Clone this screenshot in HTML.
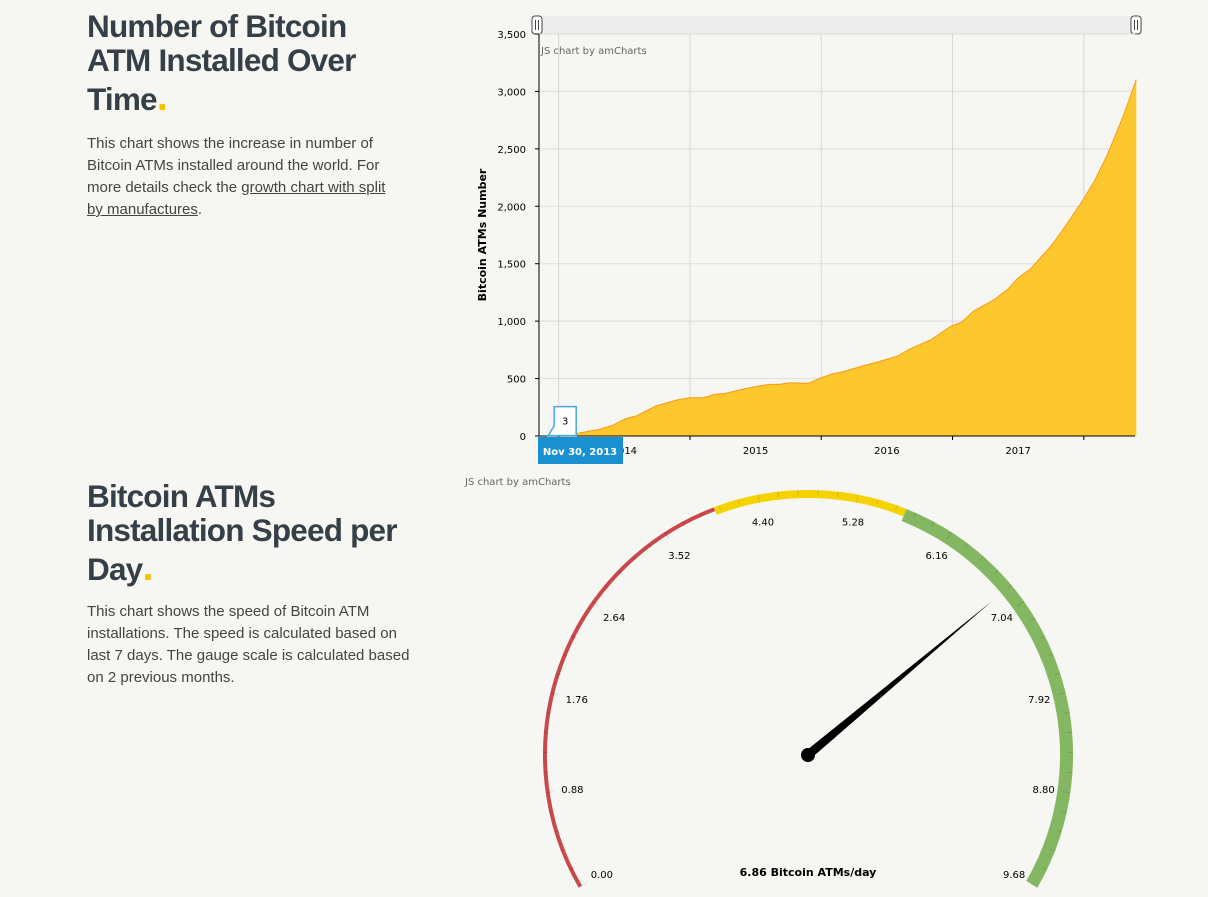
<!DOCTYPE html>
<html><head><meta charset="utf-8"><style>
body{margin:0;width:1208px;height:897px;background:#f6f6f2;font-family:"Liberation Sans",sans-serif;overflow:hidden;position:relative}
h1{position:absolute;left:87px;margin:0;font-size:31.5px;letter-spacing:-0.8px;line-height:34px;color:#353f47;font-weight:bold;width:320px}
h1 .l3{display:block;margin-top:5px}
h1 .dot{color:#f8c200;font-size:40px;line-height:10px}
p{position:absolute;left:87px;margin:0;font-size:15px;line-height:22px;color:#444;width:330px}
p a{color:#444;text-decoration:underline}
svg{position:absolute;left:0;top:0}
</style></head><body>
<h1 style="top:9px">Number of Bitcoin ATM Installed Over<span class="l3">Time<span class="dot">.</span></span></h1>
<p style="top:133px;width:308px">This chart shows the increase in number of Bitcoin ATMs installed around the world. For more details check the <a href="#">growth chart with split by manufactures</a>.</p>
<h1 style="top:479px">Bitcoin ATMs Installation Speed per<span class="l3">Day<span class="dot">.</span></span></h1>
<p style="top:601px;width:328px">This chart shows the speed of Bitcoin ATM installations. The speed is calculated based on last 7 days. The gauge scale is calculated based on 2 previous months.</p>
<svg id="chart" width="1208" height="897"></svg>
<script>
const dates=[2013.92,2014.14,2014.31,2014.41,2014.51,2014.59,2014.74,2014.90,2015.0,2015.10,2015.19,2015.27,2015.43,2015.60,2015.68,2015.76,2015.90,2016.0,2016.10,2016.16,2016.33,2016.43,2016.58,2016.68,2016.84,2016.99,2017.07,2017.16,2017.32,2017.42,2017.50,2017.59,2017.75,2017.85,2017.98,2018.08,2018.18,2018.30,2018.40];
const atmCounts=[3,23,58,93,150,174,261,313,333,333,362,371,415,449,449,464,458,507,545,557,615,644,696,760,841,957,992,1087,1189,1276,1377,1450,1653,1812,2030,2218,2450,2784,3103];
const yTicks=[0,500,1000,1500,2000,2500,3000,3500];
const yearLabels=["2014","2015","2016","2017"];
const gaugeMin=0,gaugeMax=9.68;
const gaugeTicks=[0,0.88,1.76,2.64,3.52,4.40,5.28,6.16,7.04,7.92,8.80,9.68];
const bands=[[0,4.0,"#c9484a",4],[4.0,5.72,"#f6d200",8],[5.72,9.68,"#84b761",13]];
const speed=6.86;

const S=document.getElementById('chart'),NS="http://www.w3.org/2000/svg";
function mk(t,a,p){const e=document.createElementNS(NS,t);for(const k in a)e.setAttribute(k,a[k]);(p||S).appendChild(e);return e;}
const x0=539,x1=1135,yb=436,yt=34,tStart=2013.85,tEnd=2018.39;
const X=t=>x0+(t-tStart)/(tEnd-tStart)*(x1-x0);
const Y=v=>yb-v/3500*(yb-yt);
let sb=mk('rect',{x:533,y:16,width:609,height:18,fill:'#ededed'});

[[537,'scrollbar-left-grip'],[1136,'scrollbar-right-grip']].forEach(([gx,n])=>{const g=mk('rect',{x:gx-5,y:16,width:10,height:18,rx:3,fill:'#fff',stroke:'#444'});mk('line',{x1:gx-1.5,y1:20,x2:gx-1.5,y2:30,stroke:'#444'});mk('line',{x1:gx+1.5,y1:20,x2:gx+1.5,y2:30,stroke:'#444'});});
yTicks.forEach(v=>{const y=Y(v);const l=mk('line',{x1:x0,y1:y,x2:x1,y2:y,stroke:'#ddd'});
const t=mk('text',{x:526,y:y+4,'text-anchor':'end','font-size':10,fill:'#000','font-family':'DejaVu Sans, sans-serif'});t.textContent=v.toLocaleString('en-US');
mk('line',{x1:x0-4,y1:y,x2:x0,y2:y,stroke:'#000'});});
for(let yr=2014;yr<=2018;yr++){const x=X(yr);const l=mk('line',{x1:x,y1:yt,x2:x,y2:yb,stroke:'#d8d8d8'});mk('line',{x1:x,y1:yb,x2:x,y2:yb+4,stroke:'#000'});}
yearLabels.forEach(s=>{const yr=+s;const t=mk('text',{x:X(yr+0.5),y:454,'text-anchor':'middle','font-size':10,fill:'#000','font-family':'DejaVu Sans, sans-serif'});t.textContent=s;});
let d=`M${X(dates[0])},${yb}`;dates.forEach((t,i)=>d+=` L${X(t)},${Y(atmCounts[i])}`);
const area=mk('path',{d:d+` L${X(dates[dates.length-1])},${yb} Z`,fill:'#fdc82e',stroke:'none'});

let ld='';dates.forEach((t,i)=>ld+=(i?' L':'M')+X(t)+','+Y(atmCounts[i]));
mk('path',{d:ld,fill:'none',stroke:'#f79a1a','stroke-width':1});
mk('line',{x1:x0,y1:yt,x2:x0,y2:yb,stroke:'#000'});
mk('line',{x1:x0,y1:yb,x2:x1,y2:yb,stroke:'#000'});
let wm=mk('text',{x:541,y:54,'font-size':10,fill:'#666','font-family':'DejaVu Sans, sans-serif'});wm.textContent='JS chart by amCharts';
let yt2=mk('text',{x:0,y:0,'font-size':11,'font-weight':'bold',fill:'#000','text-anchor':'middle',transform:'translate(486,235) rotate(-90)','font-family':'DejaVu Sans, sans-serif'});yt2.textContent='Bitcoin ATMs Number';
const bx=X(dates[0]),by=Y(atmCounts[0]);
let bal=mk('path',{d:`M${bx},${by} L${bx+6},${by-10} L${bx+6},${by-29} L${bx+28},${by-29} L${bx+28},${by} Z`,fill:'#fff',stroke:'#49a7d5','stroke-width':1.5});
let bt=mk('text',{x:bx+17,y:by-11,'font-size':10,'text-anchor':'middle','font-family':'DejaVu Sans, sans-serif'});bt.textContent=atmCounts[0];
let cr=mk('rect',{x:538,y:437,width:85,height:27,fill:'#1a90d0'});
let ct=mk('text',{x:580,y:455,'font-size':10,'font-weight':'bold',fill:'#fff','text-anchor':'middle','font-family':'DejaVu Sans, sans-serif'});ct.textContent='Nov 30, 2013';
let wm2=mk('text',{x:465,y:485,'font-size':10,fill:'#666','font-family':'DejaVu Sans, sans-serif'});wm2.textContent='JS chart by amCharts';
const cx=808,cy=755,R=265;
const ang=v=>(-120+240*(v-gaugeMin)/(gaugeMax-gaugeMin))*Math.PI/180;
const pt=(v,r)=>[cx+r*Math.sin(ang(v)),cy-r*Math.cos(ang(v))];
bands.forEach(([a,b,c,w])=>{const r=R-w/2;const [sx,sy]=pt(a,r),[ex,ey]=pt(b,r);
const p=mk('path',{d:`M${sx},${sy} A${r},${r} 0 0 1 ${ex},${ey}`,fill:'none',stroke:c,'stroke-width':w});});
for(let i=0;i<=55;i++){const v=gaugeMax*i/55;const [a1,b1]=pt(v,R),[a2,b2]=pt(v,R-(i%5==0?8:5));mk('line',{x1:a1,y1:b1,x2:a2,y2:b2,stroke:'rgba(0,0,0,0.12)'});}
gaugeTicks.forEach(v=>{const [lx,ly]=pt(v,238);const t=mk('text',{x:lx,y:ly+4,'font-size':10,'text-anchor':'middle','font-family':'DejaVu Sans, sans-serif'});t.textContent=v.toFixed(2);});
const a=ang(speed),L=240,w=4.5;
const tx=cx+L*Math.sin(a),ty=cy-L*Math.cos(a),px=Math.cos(a)*w,py=Math.sin(a)*w;
const nd=mk('path',{d:`M${cx+px},${cy+py} L${tx},${ty} L${cx-px},${cy-py} Z`,fill:'#000'});
const hub=mk('circle',{cx:cx,cy:cy,r:7,fill:'#000'});
const gl=mk('text',{x:cx,y:876,'font-size':11,'font-weight':'bold','text-anchor':'middle','font-family':'DejaVu Sans, sans-serif'});gl.textContent=speed.toFixed(2)+' Bitcoin ATMs/day';

</script>
</body></html>
